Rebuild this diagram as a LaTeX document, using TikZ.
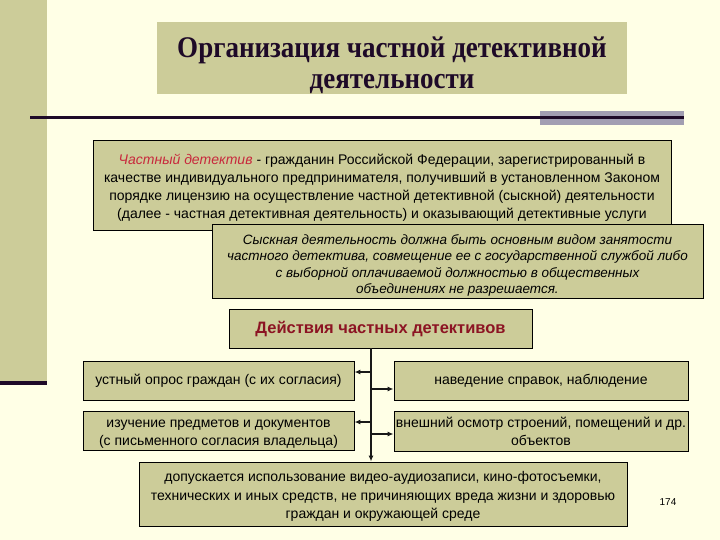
\documentclass[tikz,border=0pt]{standalone}
\usepackage{fontspec}
\usepackage{graphicx}
\setmainfont{Liberation Sans}
\newfontfamily\titlefont{Liberation Serif}
\usetikzlibrary{arrows.meta}
\definecolor{bgc}{HTML}{FFFFE6}
\definecolor{olivefill}{HTML}{CCCC99}
\definecolor{darkline}{HTML}{1E0A28}
\definecolor{grayrect}{HTML}{A29EB2}
\definecolor{redtxt}{HTML}{C8283C}
\definecolor{darkredtxt}{HTML}{8C1423}
\newcommand{\downby}[1]{\rule{0pt}{#1}}
\begin{document}
\begin{tikzpicture}[x=1pt,y=-1pt]
\tikzset{
  box/.style={draw=black, line width=0.9pt, fill=olivefill, inner sep=0pt, align=center,
    font=\fontsize{14}{18}\selectfont},
  conn/.style={line width=1.3pt, draw=black!90},
  tipa/.style={-{Latex[length=6pt,width=5pt]}}
}
\useasboundingbox (0,0) rectangle (720,540);
\fill[bgc] (0,0) rectangle (720,540);
\fill[olivefill] (0,0) rectangle (47,381);
\fill[darkline] (0,381) rectangle (47,385);
% title
\fill[olivefill] (157,22) rectangle (627,94);
\node[anchor=base, inner sep=0pt, text=darkline,
  font=\titlefont\bfseries\fontsize{30}{31}\selectfont] (title) at (392,58)
  {\scalebox{0.9}[1]{\begin{tabular}[t]{@{}c@{}}Организация частной детективной\\деятельности\end{tabular}}};
\fill[grayrect] (540,111) rectangle (684,125);
\draw[darkline, line width=3pt] (30,118) -- (684,118);
% definition boxes
\node[box, minimum width=578pt, minimum height=90pt] (def) at (382,185)
  {\downby{15pt}{\itshape\color{redtxt}Частный детектив} - гражданин Российской Федерации, зарегистрированный в\\
   качестве индивидуального предпринимателя, получивший в установленном Законом\\
   порядке лицензию на осуществление частной детективной (сыскной) деятельности\\
   (далее - частная детективная деятельность) и оказывающий детективные услуги};
\node[box, minimum width=491pt, minimum height=74pt, font=\itshape\fontsize{13.5}{16.5}\selectfont] (rule) at (457.5,261)
  {\downby{19pt}Сыскная деятельность должна быть основным видом занятости\\
   частного детектива, совмещение ее с государственной службой либо\\
   с выборной оплачиваемой должностью в общественных\\
   объединениях не разрешается.};
% actions
\node[box, minimum width=303pt, minimum height=39pt, text=darkredtxt,
  font=\bfseries\fontsize{16.5}{20}\selectfont] (act) at (380.5,328.5) {\downby{14pt}Действия частных детективов};
\node[box, minimum width=271pt, minimum height=39pt] (l1) at (218.5,380.5)
  {устный опрос граждан (с их согласия)};
\node[box, minimum width=294pt, minimum height=39pt] (r1) at (541,380.5)
  {наведение справок, наблюдение};
\node[box, minimum width=271pt, minimum height=39pt] (l2) at (218.5,430.5)
  {\downby{15pt}изучение предметов и документов\\(с письменного согласия владельца)};
\node[box, minimum width=294pt, minimum height=40pt] (r2) at (541,431)
  {внешний осмотр строений, помещений и др.\\объектов};
\node[box, minimum width=488pt, minimum height=64pt, font=\fontsize{14}{18.5}\selectfont] (use) at (383,494)
  {\downby{15pt}допускается использование видео-аудиозаписи, кино-фотосъемки,\\
   технических и иных средств, не причиняющих вреда жизни и здоровью\\
   граждан и окружающей среде};
\node[font=\fontsize{10}{12}\selectfont] (page) at (668,502) {174};
% connectors
\coordinate (trunk) at (371,0);
\coordinate (b1) at (371,372);
\coordinate (b2) at (371,389);
\coordinate (b3) at (371,422);
\coordinate (b4) at (371,434);
\draw[conn, tipa] (act.south -| trunk) -- (use.north -| trunk);
\draw[conn, tipa] (b1) -- (l1.east |- b1);
\draw[conn, tipa] (b2) -- (r1.west |- b2);
\draw[conn, tipa] (b3) -- (l2.east |- b3);
\draw[conn, tipa] (b4) -- (r2.west |- b4);
\end{tikzpicture}
\end{document}
